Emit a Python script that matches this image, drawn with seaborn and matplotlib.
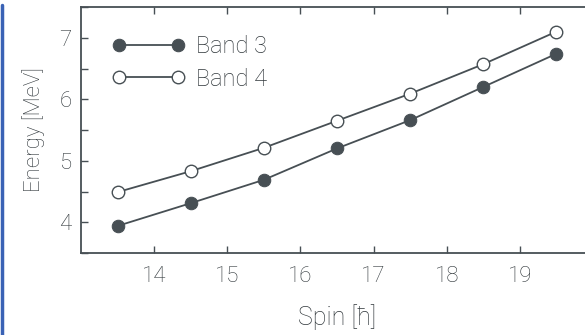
import numpy as np
import pandas as pd
import seaborn as sns
import matplotlib.pyplot as plt
from matplotlib.lines import Line2D
from matplotlib.ticker import MultipleLocator

spin = [13.5, 14.5, 15.5, 16.5, 17.5, 18.5, 19.5]
band3 = [3.94, 4.31, 4.69, 5.20, 5.66, 6.20, 6.74]
band4 = [4.49, 4.83, 5.21, 5.65, 6.09, 6.57, 7.10]

dark = "#474f54"
txt = "#30373b"

sns.set_style("ticks")
plt.rcParams['font.family'] = ['Roboto', 'DejaVu Sans']
plt.rcParams['font.weight'] = 'light'
plt.rcParams['axes.labelweight'] = 'light'

fig = plt.figure(figsize=(5.85, 3.35), dpi=100)
ax = fig.add_axes([81 / 585, 82 / 335, 512 / 585, 246 / 335])

df = pd.DataFrame({"spin": spin * 2,
                   "energy": band3 + band4,
                   "band": ["Band 3"] * 7 + ["Band 4"] * 7})

sns.lineplot(data=df[df.band == "Band 3"], x="spin", y="energy", ax=ax,
             color=dark, lw=1.3, marker="o", markersize=9,
             markerfacecolor=dark, markeredgecolor=dark, label="Band 3")
sns.lineplot(data=df[df.band == "Band 4"], x="spin", y="energy", ax=ax,
             color=dark, lw=1.3, marker="o", markersize=9,
             markerfacecolor="white", markeredgecolor=dark, markeredgewidth=1.0,
             label="Band 4")

ax.set_xlim(13, 20)
ax.set_ylim(3.5, 7.5)
ax.set_xticks([14, 15, 16, 17, 18, 19])
ax.set_yticks([4, 5, 6, 7])
ax.yaxis.set_minor_locator(MultipleLocator(0.5))
ax.tick_params(axis="both", which="both", direction="in", colors=dark,
               labelcolor=txt, labelsize=16, length=5, width=1)
ax.tick_params(axis="x", top=True, pad=9)
ax.tick_params(axis="y", pad=7)
ax.tick_params(axis="y", which="minor", length=5)
for s in ["left", "bottom", "top", "right"]:
    ax.spines[s].set_color(dark)
    ax.spines[s].set_linewidth(1.3)

ax.set_xlabel("Spin [\u0127]", fontsize=18, color=txt, labelpad=13)
ax.set_ylabel("Energy [MeV]", fontsize=16, color=txt, labelpad=10)

handles, labels = ax.get_legend_handles_labels()
leg = ax.legend(handles, labels, loc="upper left", frameon=False, fontsize=17,
                numpoints=2, handlelength=3.1, bbox_to_anchor=(0.061, 0.885),
                borderaxespad=0.0, borderpad=0.0, labelspacing=0.4,
                handletextpad=0.45, labelcolor=txt)

fig.add_artist(Line2D([0.004, 0.004], [0.0, 0.985], transform=fig.transFigure,
                      color="#3a62b5", lw=2.5, solid_capstyle="round"))

fig.savefig("out.png", dpi=100)
